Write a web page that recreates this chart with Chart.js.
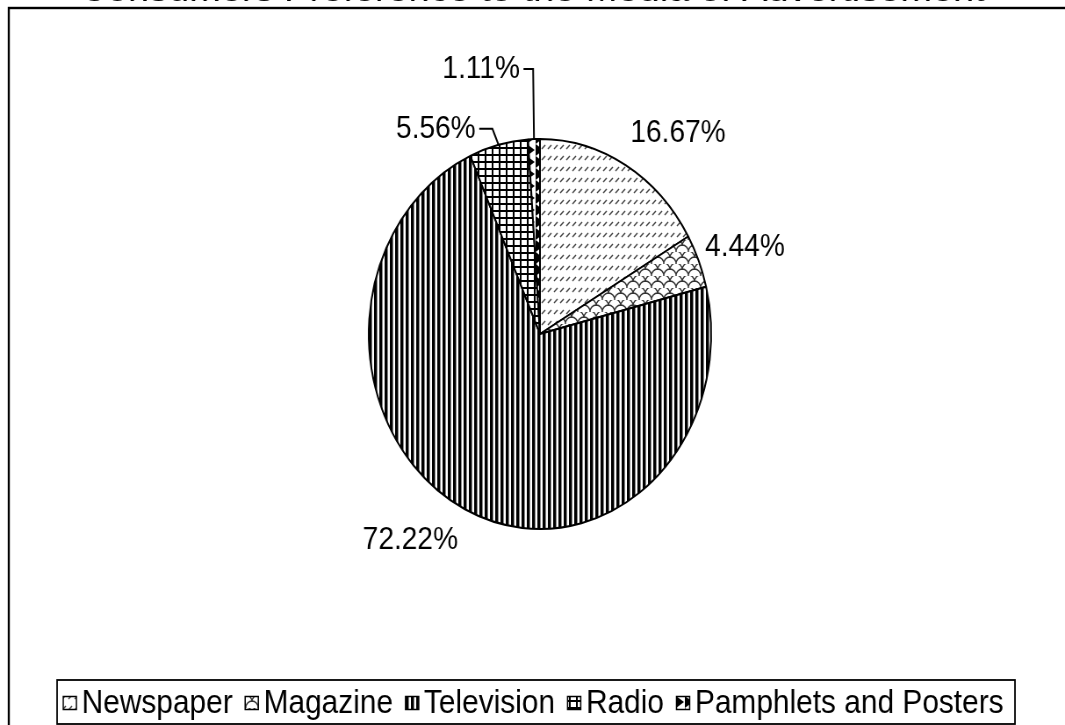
<!DOCTYPE html>
<html>
<head>
<meta charset="utf-8">
<script src="https://cdn.jsdelivr.net/npm/chart.js@4.4.1/dist/chart.umd.min.js"></script>
<style>
    html, body { margin: 0; padding: 0; background: #fff; overflow: hidden; }
    /* the reference is squeezed horizontally, so draw wide and squeeze */
    #wrap { position: absolute; left: 0; top: 0; width: 1213px; height: 725px;
            transform: scaleX(0.878); transform-origin: 0 0; }
</style>
</head>
<body>
<div id="wrap"><canvas id="myChart"></canvas></div>
<script>
const chartTitle = 'Consumers Preference to the Media of Advertisement';
const labels = ['Newspaper', 'Magazine', 'Television', 'Radio', 'Pamphlets and Posters'];
const respondents = [15, 4, 65, 5, 1];

const total = respondents.reduce((a, b) => a + b, 0);
const percentLabels = respondents.map(v => (v / total * 100).toFixed(2) + '%');

const FONT = '"Liberation Sans", Arial, sans-serif';

const makePattern = (w, h, paint) => {
    const c = document.createElement('canvas');
    c.width = w;
    c.height = h;
    const g = c.getContext('2d');
    g.fillStyle = '#fff';
    g.fillRect(0, 0, w, h);
    paint(g);
    return document.createElement('canvas').getContext('2d').createPattern(c, 'repeat');
};

const patterns = [
    // newspaper: rows of small slanted dashes
    makePattern(7, 11, g => {
        g.strokeStyle = '#444';
        g.lineWidth = 1.5;
        g.beginPath();
        g.moveTo(1, 6);
        g.lineTo(5, 2);
        g.stroke();
    }),
    // magazine: fish scales
    makePattern(14, 12, g => {
        g.strokeStyle = '#333';
        g.lineWidth = 1.4;
        g.beginPath();
        g.arc(7, 12, 7, Math.PI, 2 * Math.PI);
        g.stroke();
        g.beginPath();
        g.arc(0, 6, 7, Math.PI * 1.5, Math.PI * 2);
        g.stroke();
        g.beginPath();
        g.arc(14, 6, 7, Math.PI, Math.PI * 1.5);
        g.stroke();
    }),
    // television: vertical stripes
    makePattern(6, 2, g => {
        g.fillStyle = '#000';
        g.fillRect(0, 0, 3, 2);
        g.fillStyle = '#888';
        g.fillRect(3, 0, 1, 2);
    }),
    // radio: grid
    makePattern(8, 7, g => {
        g.fillStyle = '#000';
        g.fillRect(0, 0, 8, 2);
        g.fillRect(0, 0, 2, 7);
    }),
    // pamphlets: black teeth
    makePattern(10, 12, g => {
        g.fillStyle = '#000';
        g.beginPath();
        g.moveTo(0, 0);
        g.lineTo(9, 6);
        g.lineTo(0, 12);
        g.closePath();
        g.fill();
    })
];

// where each percentage sits: gap beyond the rim, or a leader line
const labelPlacement = [
    { gap: 37, dx: -13 },
    { gap: 37, dx: -27 },
    { gap: 34, dx: 7 },
    { leader: true, dx1: -7, rise: 16, run: 15 },
    { leader: true, dx1: -1, rise: 70, run: 11 }
];

const decorations = {
    id: 'decorations',
    beforeDraw(chart) {
        const ctx = chart.ctx;
        ctx.save();
        // outer frame (right and bottom edges fall off the picture)
        ctx.strokeStyle = '#000';
        ctx.lineWidth = 2.4;
        ctx.strokeRect(10, 8, chart.width + 20, chart.height + 20);
        // title, almost entirely cut off at the top
        ctx.fillStyle = '#000';
        ctx.font = '34px ' + FONT;
        const w = ctx.measureText(chartTitle).width;
        ctx.translate(606, 0.6);
        ctx.scale(1031 / w, 1);
        ctx.textAlign = 'center';
        ctx.textBaseline = 'alphabetic';
        ctx.fillText(chartTitle, 0, 0);
        ctx.restore();
    },
    afterDraw(chart) {
        const ctx = chart.ctx;
        const meta = chart.getDatasetMeta(0);
        ctx.save();
        ctx.fillStyle = '#000';
        ctx.strokeStyle = '#000';
        ctx.font = '32px ' + FONT;
        ctx.textBaseline = 'middle';

        meta.data.forEach((arc, i) => {
            const { x, y, startAngle, endAngle, outerRadius } = arc.getProps(['x', 'y', 'startAngle', 'endAngle', 'outerRadius'], true);
            const mid = (startAngle + endAngle) / 2;
            const dirX = Math.cos(mid);
            const dirY = Math.sin(mid);
            const p = labelPlacement[i];
            const text = percentLabels[i];
            if (p.leader) {
                const ex = x + dirX * outerRadius;
                const ey = y + dirY * outerRadius;
                const cx = ex + p.dx1;
                const cy = ey - p.rise;
                ctx.lineWidth = 2;
                ctx.beginPath();
                ctx.moveTo(ex, ey);
                ctx.lineTo(cx, cy);
                ctx.lineTo(cx - p.run, cy);
                ctx.stroke();
                ctx.textAlign = 'right';
                ctx.fillText(text, cx - p.run - 4, cy);
            } else {
                const r = outerRadius + p.gap;
                ctx.textAlign = dirX >= 0 ? 'left' : 'right';
                ctx.fillText(text, x + dirX * r + p.dx, y + dirY * r);
            }
        });

        // legend in its own box
        const boxL = 65, boxR = 1156, boxT = 680, boxB = 724;
        ctx.lineWidth = 1.8;
        ctx.strokeRect(boxL, boxT, boxR - boxL, boxB - boxT);

        ctx.font = '34px ' + FONT;
        const ds = chart.data.datasets[0];
        const iconW = 15, iconH = 13, iconGap = 6;
        const startX = 72, endX = 1143;
        const widths = chart.data.labels.map(l => ctx.measureText(l).width);
        const used = widths.reduce((a, b) => a + b, 0) + chart.data.labels.length * (iconW + iconGap);
        const sep = (endX - startX - used) / (chart.data.labels.length - 1);
        const midY = 703;
        let lx = startX;
        ctx.textAlign = 'left';
        chart.data.labels.forEach((l, i) => {
            ctx.fillStyle = ds.backgroundColor[i];
            ctx.fillRect(lx, midY - iconH / 2, iconW, iconH);
            ctx.lineWidth = 1.5;
            ctx.strokeRect(lx, midY - iconH / 2, iconW, iconH);
            ctx.fillStyle = '#000';
            ctx.fillText(l, lx + iconW + iconGap, midY + 1);
            lx += iconW + iconGap + widths[i] + sep;
        });
        ctx.restore();
    }
};

const initChart = () => {
    const ctx = document.getElementById('myChart');
    const config = {
        type: 'pie',
        plugins: [decorations],
        data: {
            labels: labels,
            datasets: [
                {
                    data: respondents,
                    backgroundColor: patterns,
                    borderColor: '#000',
                    borderWidth: 2
                }
            ]
        },
        options: {
            responsive: true,
            maintainAspectRatio: false,
            animation: false,
            events: [],
            layout: {
                padding: { top: 138, bottom: 195, left: 400, right: 383 }
            },
            plugins: {
                legend: { display: false },
                tooltip: { enabled: false }
            }
        }
    };
    return new Chart(ctx, config);
};

const chartInstance = initChart();
</script>
</body>
</html>
